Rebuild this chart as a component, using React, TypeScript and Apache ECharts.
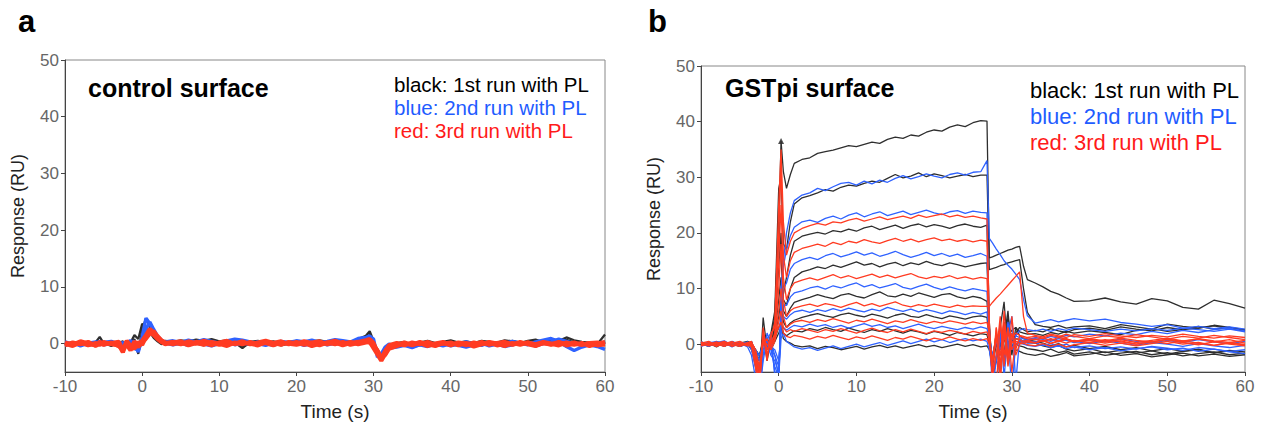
import React, { useEffect, useRef } from "react";
import * as echarts from "echarts";

// ---------- Panel a: control surface ----------
const tA = [-10,-9,-8,-7,-6,-5.5,-5,-4,-3,
  -2.5,-2,-1.5,-1,-0.5,0,0.5,1,1.5,2,2.5,3,
  4,5,6,7,8,9,10,11,12,13,14,15,16,17,18,19,20,21,22,23,24,25,26,27,28,29,
  29.5,30,30.5,31,31.5,32,
  33,34,35,36,37,38,39,40,41,42,43,44,45,46,47,48,49,50,51,52,53,54,55,56,57,58,59,60];

const aBlack1 = [0.2,-0.3,0.4,-0.1,0.3,1.2,0.1,-0.4,0.2,
  -0.3,0.4,-0.5,0.8,-1.8,2.5,4.4,3,1.5,0.6,0.2,0.5,
  0.3,0.6,0.4,0.7,0.5,0.8,0.4,0.6,0.2,-0.8,0.3,0.5,0.2,0.4,0.1,0.3,0.5,0.2,0.4,0.6,0.3,0.1,0.4,0.2,0.8,1.4,
  2.2,0.5,-1.5,-2.5,-1.2,-0.3,
  0.1,0.3,-0.2,0.2,0.5,0.1,0.3,0.6,0.2,0.4,0.1,0.5,0.3,0.2,0.6,0.4,0.1,0.5,0.7,0.3,0.8,0.5,1.1,0.6,0.3,0.2,-0.1,1.6];
const aBlack2 = [-0.2,0.3,-0.1,0.2,-0.4,0.1,0.3,-0.2,0.1,
  0.4,-0.6,0.2,1.5,0.8,3.5,2.8,2,1,0.4,-0.1,0.3,
  0.1,-0.2,0.3,0,-0.3,0.2,-0.1,0.3,0,-0.4,-0.1,0.2,-0.2,0.1,-0.3,0,0.2,-0.1,0.1,-0.2,0.2,0,-0.2,0.1,0.5,0.9,
  1.6,0.2,-1,-2.2,-1.6,-0.5,
  -0.2,0,-0.3,0.1,-0.1,-0.4,0,0.2,-0.2,0.1,-0.3,0,0.3,-0.1,0.2,0.5,0.2,-0.1,0.4,0.1,0.6,0.3,0.7,0.2,-0.1,0.1,-0.3,0.4];
const aBlue1 = [0.3,-0.1,0.2,-0.3,0.1,0.4,-0.2,0,0.3,
  -0.5,0.2,-0.3,0.5,-1.5,1.2,4.5,3.5,2.2,1,0.5,0.3,
  0.5,0.2,0.6,0.3,0.7,0.4,0.1,0.5,0.8,0.6,0.3,0,-0.3,0.1,0.4,0.2,0.5,0.3,0.6,0.2,0.4,0.7,0.5,0.3,0.9,1.1,
  1.3,0.8,-2.4,-1.8,-0.6,-0.1,
  -0.4,-0.1,-0.5,-0.2,0.2,-0.3,0.1,-0.4,-0.1,0.3,0,-0.3,0.2,-0.2,0.1,0.4,0.1,-0.2,0.3,0.6,0.9,0.4,-0.5,-1.2,-0.6,-0.2,-0.5,-1];
const aBlue2 = [-0.3,0.2,-0.4,0.1,0.3,-0.2,0.2,0.4,-0.1,
  0.2,-0.4,0.6,-0.8,-1.2,0.8,2.6,3.8,2.5,1.3,0.6,0.1,
  -0.2,0.1,-0.3,0.2,-0.1,-0.4,0,0.3,-0.2,0.1,-0.1,0.3,0,-0.3,0.2,-0.1,0.1,-0.3,0,0.2,-0.2,0.1,0.3,0,0.6,1,
  1.4,-0.3,-1.8,-2.6,-1.4,-0.8,
  -0.6,-0.3,-0.7,-0.2,-0.5,-0.1,-0.4,0,-0.3,-0.6,-0.2,0.1,-0.4,-0.1,-0.5,-0.2,0.2,-0.1,-0.4,0,0.3,0.8,0.4,0,-0.3,0.1,-0.2,0.3];
const aRed1 = [0,-0.4,0.2,-0.3,0.1,-0.2,0.3,-0.1,-0.3,
  -1.5,0.3,-0.8,0.2,-0.6,0.5,1.5,2.6,1.8,1,0.4,0.1,
  0.3,-0.1,0.4,0,0.5,0.1,-0.2,0.3,0,0.4,-0.1,0.2,0.5,0.1,-0.2,0.3,0,0.4,0.1,-0.3,0.2,0.5,0,0.3,-0.1,0.2,
  0.3,-0.8,-1.9,-3,-1.8,-0.6,
  -0.2,0.2,-0.3,0.1,-0.4,0,0.3,-0.2,0.1,-0.3,0.2,-0.1,0.3,0,-0.4,0.1,-0.2,0.2,-0.1,0.3,0,-0.3,0.2,-0.2,0.1,-0.4,0,0.3];
const aRed2 = [-0.3,0.2,-0.1,0.3,-0.4,0.1,-0.2,0.2,-0.5,
  -0.9,-0.2,-1.2,0.4,-0.3,0.2,0.9,1.8,2.2,1.3,0.6,0.2,
  -0.1,0.2,-0.3,0.1,-0.2,0.3,0,-0.4,0.2,-0.1,0.3,-0.2,0.1,-0.3,0.2,0,-0.2,0.1,-0.4,0,0.2,-0.1,0.3,-0.2,0.1,0.4,
  0.2,-0.4,-1.2,-2.4,-2,-0.9,
  -0.4,0,-0.2,0.3,-0.1,-0.4,0.1,-0.3,0.2,0,-0.5,-0.1,0.2,-0.3,0,-0.2,0.3,-0.1,-0.4,0.1,-0.2,0.2,-0.3,0,-0.2,0.1,-0.3,-0.1];
const aRed3 = [0.2,-0.2,0.4,0,-0.3,0.3,-0.1,0.1,0.3,
  -1.2,0.5,-0.4,-0.9,0.3,-0.2,1.2,2,1.5,0.8,0.3,-0.1,
  0.2,0.4,-0.1,0.3,0.1,-0.3,0.2,0.5,-0.1,0.2,0,-0.3,0.3,0.1,0.4,-0.1,0.3,-0.2,0.2,0.4,-0.1,0.2,-0.3,0.1,0.3,0.6,
  0.8,0.1,-1.5,-2.7,-1.3,-0.3,
  0.1,-0.3,0.2,-0.1,0.3,-0.2,0,0.2,-0.3,0.1,-0.1,0.3,-0.2,0.1,0.3,-0.1,0,0.2,-0.3,0.1,-0.1,0.3,-0.1,0.2,-0.2,0.1,0.2,-0.2];

// ---------- Panel b: GSTpi surface ----------
const tB = [-10,-9,-8,-7,-6,-5,-4,
  -3.5,-3,-2.5,-2,-1.5,-1,-0.5,0,0.3,0.6,
  1,1.5,2,3,4,5,6,7,8,9,10,11,12,13,14,15,16,17,18,19,20,21,22,23,24,25,26,26.8,
  27.1,27.5,28,28.5,29,29.5,30,30.5,31,31.5,32,
  33,34,35,36,37,38,40,42,44,46,48,50,52,54,56,58,60];

const bBlack1 = [0.3,-0.2,0.4,0.1,-0.3,0.2,0.5,
  0.2,-1.5,-3,1.5,0.5,-1,3,20,36.5,31,
  28,30.5,32.5,33.2,33.5,34.3,34.6,34.9,35.3,35.7,35.5,35.9,36.3,36.1,36.8,37.2,37,37.6,37.4,38.1,38.5,38.3,39,39.4,39.1,39.8,40.2,40.1,
  15.5,15.7,16,16.3,16.6,16.9,17.1,17.4,17.6,14,11.6,
  11,10.3,9.5,9,8.3,7.7,7.8,8.3,7.6,7.2,8.2,7.8,6.6,6.3,7.9,7.3,6.5];
const bBlack2 = [-0.3,0.2,-0.5,0.3,0,-0.4,0.2,
  -0.5,-4,-7,4.8,-1,2,6,28,30,18,
  17,22,25.2,26.3,26.7,27.2,27.8,27.5,28.2,28.6,28.4,28.9,29.3,29.1,29.8,30.5,29.9,30.2,30.8,30.1,30.6,30.3,29.9,30.2,30.5,30.1,30.4,30.4,
  13.4,13.6,13.8,14.1,14.3,14.6,14.8,15,15.2,10,5.7,
  3.5,3.2,3,3.4,2.9,3.1,3.3,2.8,3.5,3.1,2.7,3.6,3.2,2.9,3.4,3,2.6];
const bBlack3 = [0.4,-0.1,0.2,-0.4,0.3,0.1,-0.3,
  0.5,-2,-6,2,-3,1,5,22,15,9,
  12,16,18.5,19.4,19.8,20.1,19.8,20.4,20.2,20.7,20.3,20.9,21.2,20.6,21,21.4,20.8,21.3,21.6,21.1,21.5,21.2,20.8,21.3,21.6,21.2,21,21.4,
  4,-6,-3,2,1,6,-2,3,1.5,1,0.8,
  0.5,0.2,-0.3,0.1,-0.5,-0.2,-0.8,-0.4,-1,-0.6,-1.2,-0.8,-1.3,-0.9,-1.5,-1.1,-1.4];
const bBlack4 = [-0.2,0.3,-0.1,0.4,-0.3,0.2,0,
  -1,-3,-8,1,-2,0.5,3,14,20,8,
  7,10,12,13,13.4,13.9,13.6,14.2,13.8,14.3,14.8,14.2,14.5,13.9,14.4,14.7,14.1,14.6,14.3,14.9,14.4,14.1,14.6,14.3,13.9,14.2,14.5,14.6,
  3,-4,-8,1,-2,5,-1,2,3,2.6,2.2,
  2.5,2.2,2.8,2.4,2.1,2.6,2.9,2.5,3.1,2.7,2.4,3,2.6,2.9,3.3,2.8,2.4];
const bBlack5 = [0.1,-0.4,0.3,0,0.4,-0.2,0.1,
  0,-2,-5,1,0.5,-1,2,8,12,6,
  5,6.5,7.5,8,8.4,8.9,8.5,8.2,8.8,9.1,8.6,8.3,8.9,9.4,8.7,8.5,9,8.6,9.2,8.8,8.4,8.9,9.1,8.5,8.2,8.6,8.3,7.7,
  2,-5,-3,3,7.6,-2,0.5,1,0.8,0.5,0.3,
  0.2,-0.3,-0.6,-0.2,-0.9,-1.2,-0.8,-1.5,-1.1,-1.6,-1.2,-1.8,-1.3,-1,-1.6,-1.2,-1.8];
const bBlack6 = [0.3,0,-0.3,0.2,-0.1,0.3,-0.2,
  0.3,-1,-2,0.5,1,-0.5,1.5,5,8,4,
  3,3.8,4.3,4.8,5.2,5.5,5.1,4.8,5.3,5.6,5.2,4.9,5.4,5.1,4.7,5.2,5.5,5,4.8,5.3,4.9,4.6,5.1,4.8,4.5,4.9,5.1,4.8,
  1,-3,2,-1,4,1.5,2.5,3,2.2,2,1.8,
  1.9,1.6,2.1,1.8,2.3,2,2.4,2.1,1.7,2.5,2.8,2.3,2.6,3.2,2.7,3,2.4];
const bBlack7 = [-0.1,0.2,0,-0.3,0.2,-0.4,0.1,
  0,-1,-3,0.5,-0.5,0,1,3,4,2,
  1.5,2,2.4,2.2,2.8,2.5,3,2.6,2.3,2.9,2.5,2.1,2.6,2.3,2.8,2.4,2,2.5,2.2,1.8,2.3,2,1.6,2.1,1.8,1.5,1.9,1.7,
  0,-2,1,-1,2,0.5,-0.5,0,-0.3,-0.5,-0.8,
  -1,-1.3,-0.9,-1.5,-1.2,-1.8,-1.4,-2,-1.6,-1.3,-1.9,-1.5,-2.1,-1.7,-1.4,-1.9,-1.6];
const bBlack8 = [0.2,-0.3,0.1,0.3,-0.2,0,0.3,
  0.1,-1,-2,0,1,-1,0.5,2,3,1,
  0.5,0.2,-0.2,-0.5,-0.3,-0.8,-0.4,-0.6,-1,-0.7,-0.4,-0.9,-0.5,-0.2,-0.6,-0.3,-0.7,-0.4,-0.1,-0.5,-0.2,-0.6,-0.3,0,-0.4,-0.1,-0.5,-0.3,
  -1,-4,0,-2,1,-1,-0.5,-1,-1.3,-1.6,-1.8,
  -2,-1.7,-2.2,-1.9,-1.5,-2.1,-1.8,-1.4,-2,-1.7,-2.3,-1.9,-1.6,-2.1,-1.8,-2.2,-1.9];

const bBlue1 = [-0.2,0.4,0.1,-0.3,0.5,-0.1,0.2,
  -1,-4,-9,-3,1,2,-6,-8,10,15,
  20,23.6,25.8,26.8,27.2,28,27.6,28.3,28.9,29.1,28.6,29.3,28.8,29.5,29.1,29.8,30.3,29.7,30.1,30.6,30.2,29.9,30.5,30.8,30.4,30.9,31,33,
  19,18.2,17.1,16.1,15,14.2,13.5,12.6,11.6,8,5.1,
  3.8,4.1,4.4,4,4.3,4.6,4.2,4.5,3.9,3.6,3.2,3.5,2.9,3.2,2.8,3.1,2.7];
const bBlue2 = [0.1,-0.4,0.3,0.6,-0.2,0.2,-0.5,
  -2,-6,-9,-2,2,0,-5,-7,8,14,
  17,19.5,21,22,22.3,21.9,22.6,23,22.5,23.2,23.6,22.9,23.4,23.8,23.1,23.5,23.9,23.3,23.7,24.1,23.6,23.3,23.8,24,23.5,23.9,23.7,23.6,
  2,-8,-3,4,-6,2,5,-7,1,0.5,0.2,
  0.3,-0.2,0.1,-0.4,0,-0.6,-0.3,-0.8,-0.5,-0.9,-0.4,-0.7,-1.1,-0.6,-0.9,-1.3,-1];
const bBlue3 = [0.4,0,-0.3,0.2,-0.5,0.3,0.1,
  -0.5,-3,-7,-1,1,-1,-4,-6,6,10,
  11,13.5,14.5,15.2,15.6,15.2,15.9,16.3,15.7,16.1,16.6,16,16.4,15.8,16.2,16.7,16.1,15.6,16,16.5,15.9,16.3,15.8,16.2,15.6,15.9,16.3,15.8,
  3,-5,-8,2,-3,4,-1,1.5,2.5,2.8,2.6,
  2.4,2.7,2.3,2.8,2.5,2.9,2.6,2.3,2.7,2.4,2.8,2.5,2.9,2.6,2.3,2.7,2.2];
const bBlue4 = [-0.3,0.2,0.5,-0.1,0.3,-0.4,0,
  0.5,-2,-5,1,0,-2,-3,-5,4,7,
  7,8.5,9.2,9.6,10.1,10.4,9.9,10.5,10.1,10.6,11,10.3,10.7,10.1,10.5,10.9,10.2,9.9,10.4,10.8,10.2,9.8,10.3,9.9,9.6,10,9.7,9.5,
  1,-6,-2,3,-4,1,-8,0,0.5,0.3,0.6,
  0.4,0.8,0.5,1,0.7,0.3,0.8,0.4,0.9,0.5,0.2,0.7,0.3,0.8,0.4,0.1,0.5];
const bBlue5 = [0.2,-0.2,0.1,0.4,-0.3,0.1,0.3,
  0,-1,-3,0.5,0.5,-1,-2,-4,3,5,
  4.5,5.3,5.8,6.1,5.7,6.2,5.9,6.4,6,6.5,6.1,5.8,6.3,6,6.6,6.2,5.9,6.3,5.8,6.2,5.9,5.5,6,5.7,5.3,5.7,5.4,5.8,
  2,-3,1,-5,3,-1,2,1.5,1.2,1,0.8,
  1,0.6,0.9,0.4,0.8,0.5,0.1,0.6,0.2,-0.2,0.3,0,-0.4,0.1,-0.3,-0.6,-0.2];
const bBlue6 = [-0.4,0.1,-0.2,0.3,0,0.4,-0.1,
  -0.2,-1,-2,0,0.5,-0.5,-1,-3,2,3,
  2.5,3,3.4,3.1,3.6,3.2,3.5,3,3.4,2.9,3.3,3.7,3.2,3.5,3,3.3,2.8,3.2,3.6,3.1,2.8,3.2,2.9,2.6,3,2.7,3.1,2.8,
  1,-2,0.5,-1,2,0,1,0.5,0.2,0,-0.2,
  -0.4,-0.1,-0.6,-0.3,-0.8,-0.5,-1,-0.6,-1.2,-0.8,-0.5,-1,-0.7,-1.3,-0.9,-1.4,-1.7];
const bBlue7 = [0.3,-0.1,0.4,-0.3,0.1,-0.2,0.4,
  0,-2,-4,0,-1,0.5,-2,-6,1,2,
  0.5,0,-0.5,-0.9,-0.6,-1.1,-0.7,-0.3,-0.8,-0.4,0,-0.5,-0.1,0.3,-0.2,0.2,0.6,0.1,0.5,0.9,0.4,0.8,0.3,0.7,1,0.6,0.9,0.5,
  -1,-5,-2,1,-3,0.5,-1,0,0.4,0.6,0.8,
  1.2,0.9,1.4,1.1,1.6,1.3,1.8,1.5,2,1.7,2.3,1.9,2.5,2.1,2.6,2.9,2.4];

const bRed1 = [0.2,0.5,-0.3,0.1,0.4,-0.2,0.3,
  0.5,-3,-8,3,-2,1,4,25,35,22,
  16,18.5,20,20.8,21.3,21.7,21.4,22,21.8,22.3,22.6,22.1,22.5,22.9,22.4,22.7,23,22.6,23.2,22.8,23.1,23.4,22.9,23.2,22.8,23,22.7,22.5,
  4,-7,3,-4,6,-3,2,-1,1.5,1.2,1,
  0.8,1.1,0.7,1.2,0.9,0.5,1,0.6,1.1,0.7,0.4,0.9,0.5,1,0.6,0.3,0.7];
const bRed2 = [-0.3,0,0.4,-0.2,0.2,0.5,-0.1,
  -0.5,-4,-9,2,-3,2,3,20,32,16,
  12,15,16.5,17.2,17.6,18,17.6,18.3,17.9,18.5,18.2,18.8,18.4,18.1,18.6,19,18.5,18.9,18.4,18.8,19.1,18.6,18.9,18.5,18.8,18.4,18.7,18.5,
  2,-5,-8,4,-2,3,-5,1,0.8,0.5,0.6,
  0.3,0.7,0.2,0.6,1,0.5,0.9,0.4,0.8,0.3,0.7,1.1,0.6,0.9,0.4,0.8,0.2];
const bRed3 = [0.4,-0.2,0.1,0.3,-0.4,0,0.2,
  0,-2,-6,1,-1,0,2,15,25,12,
  8,10,11,11.5,11.9,11.5,12,12.5,11.9,12.3,11.8,12.2,12.6,12,12.4,11.9,12.3,12.7,12.1,11.8,12.2,11.9,12.3,11.8,12.1,11.7,12,11.8,
  1,-3,2,-6,4,-2,1,2,1.6,1.4,1.2,
  1.4,1.1,1.6,1.3,1.8,1.4,1,1.5,1.2,1.7,1.3,0.9,1.4,1.1,1.6,1.2,0.8];
const bRed4 = [-0.1,0.3,0,-0.4,0.3,0.1,-0.3,
  0.2,-1,-4,0.5,0,-0.5,1,10,18,8,
  5,6,6.5,6.9,7.2,6.8,7.3,7,6.6,7.1,7.5,6.9,7.3,6.8,7.2,7.6,7,6.7,7.1,6.8,7.2,6.9,6.6,7,6.7,6.9,6.8,6.8,
  6.8,7.5,8.3,9,9.8,10.6,11.4,12.2,13,5,2,
  1.6,1.3,1.8,1.5,1.2,1.7,1.4,1.9,1.5,1.2,1.6,1.3,1.8,1.4,1.1,1.5,1.2];
const bRed5 = [0.3,-0.3,0.2,0.5,-0.1,-0.4,0.2,
  -0.3,-2,-7,1,-1,0,1,6,10,5,
  3,3.6,4,4.3,3.9,4.4,4.1,4.6,4.2,3.8,4.3,4,4.5,4.1,3.7,4.2,3.9,4.4,4,3.7,4.1,3.8,4.2,3.9,3.6,4,3.7,3.9,
  2,-6,-2,5,-4,3,-1,0.5,0.3,0.1,0.4,
  0.2,0.6,0.1,0.5,0.9,0.4,0.7,0.2,0.6,0,0.4,0.8,0.3,-0.1,0.4,0,-0.3];
const bRed6 = [-0.2,0.1,-0.4,0.2,0.4,-0.1,0.1,
  0.4,-1,-5,0,1,-1,0.5,4,6,3,
  2.2,2.6,2.3,2.8,2.5,2.1,2.6,2.3,2.8,2.4,2,2.5,2.9,2.4,2.1,2.6,2.2,2.7,2.3,1.9,2.4,2.1,2.5,2.2,1.8,2.3,2,2.2,
  0.5,-4,3,-7,2,-3,5,-2,0,0.2,-0.1,
  -0.3,0.1,-0.4,0,-0.5,-0.1,0.3,-0.2,0.2,-0.3,0.1,0.5,0,0.3,-0.2,0.2,-0.1];
const bRed7 = [0.1,-0.2,0.3,0,-0.3,0.3,-0.2,
  0.1,-3,-6,2,-1,0.5,1.5,3,4,2,
  1.4,1.2,1.6,1.3,0.9,1.4,1.1,1.6,1.2,0.8,1.3,1,1.5,1.1,0.7,1.2,0.9,1.4,1,0.6,1.1,0.8,1.3,0.9,0.6,1,0.7,1,
  0,-3,1,-2,3,-4,0.5,0,0.3,0.5,0.7,
  0.9,0.5,1,0.6,0.2,0.7,0.3,0.8,0.4,0,0.5,0.1,0.6,0.2,-0.2,0.3,-0.1];

const xTicks = [-10, 0, 10, 20, 30, 40, 50, 60];
const yTicks = [0, 10, 20, 30, 40, 50];
const legendLines = ["black: 1st run with PL", "blue: 2nd run with PL", "red: 3rd run with PL"];
const panelTitles = ["control surface", "GSTpi surface"];

const BLACK = "#2e2e2e";
const BLUE = "#2f62ff";
const RED = "#ff3b22";
const FONT = "'Liberation Sans', Arial, Helvetica, sans-serif";

function pairs(t: number[], v: number[]) {
  return t.map((x, i) => [x, v[i]]);
}

export default function App() {
  const ref = useRef<HTMLDivElement>(null);
  useEffect(() => {
    document.body.style.margin = "0";
    const chart = echarts.init(ref.current!, null, { renderer: "svg" });

    const mkX = (gi: number) => ({
      type: "value",
      gridIndex: gi,
      min: -10,
      max: 60,
      interval: 10,
      name: "Time (s)",
      nameLocation: "middle",
      nameGap: 30,
      nameTextStyle: { fontSize: 19, color: "#222", fontFamily: FONT },
      axisLine: { show: true, onZero: false, lineStyle: { color: "#444", width: 1 } },
      axisTick: { show: true, length: 4, customValues: xTicks, lineStyle: { color: "#444" } },
      axisLabel: { fontSize: 17, color: "#666", fontFamily: FONT, margin: 6, customValues: xTicks },
      splitLine: { show: false },
    });
    const mkY = (gi: number) => ({
      type: "value",
      gridIndex: gi,
      min: -5,
      max: 50,
      name: "Response (RU)",
      nameLocation: "middle",
      nameGap: 38,
      nameRotate: 90,
      nameTextStyle: { fontSize: 18, color: "#222", fontFamily: FONT },
      axisLine: { show: true, onZero: false, lineStyle: { color: "#444", width: 1 } },
      axisTick: { show: true, length: 4, customValues: yTicks, lineStyle: { color: "#444" } },
      axisLabel: { fontSize: 17, color: "#666", fontFamily: FONT, margin: 6, customValues: yTicks },
      splitLine: { show: false },
    });

    const line = (gi: number, t: number[], v: number[], color: string, width: number) => ({
      type: "line",
      xAxisIndex: gi,
      yAxisIndex: gi,
      data: pairs(t, v),
      showSymbol: false,
      symbol: "none",
      silent: true,
      clip: true,
      lineStyle: { color, width },
    });

    const seriesA = [
      line(0, tA, aBlack1, BLACK, 2.2),
      line(0, tA, aBlack2, BLACK, 2.2),
      line(0, tA, aBlue1, BLUE, 3.4),
      line(0, tA, aBlue2, BLUE, 3.4),
      line(0, tA, aRed1, RED, 4.2),
      line(0, tA, aRed2, RED, 4.2),
      line(0, tA, aRed3, RED, 4.2),
    ];
    const seriesB = [
      ...[bBlack1, bBlack2, bBlack3, bBlack4, bBlack5, bBlack6, bBlack7, bBlack8].map((v) => line(1, tB, v, BLACK, 1.3)),
      ...[bBlue1, bBlue2, bBlue3, bBlue4, bBlue5, bBlue6, bBlue7].map((v) => line(1, tB, v, BLUE, 1.3)),
      ...[bRed1, bRed2, bRed3, bRed4, bRed5, bRed6, bRed7].map((v) => line(1, tB, v, RED, 1.3)),
      {
        type: "scatter",
        xAxisIndex: 1,
        yAxisIndex: 1,
        data: [[tB[15], bBlack1[15]]],
        symbol: "triangle",
        symbolSize: 6,
        itemStyle: { color: "#222" },
        silent: true,
      },
    ];

    const legendText = (x: number, y0: number, dy: number, size: number) =>
      legendLines.map((txt, i) => ({
        type: "text",
        x,
        y: y0 + i * dy,
        style: {
          text: txt,
          fill: ["#000000", "#1f5cff", "#ff1a1a"][i],
          font: `${size}px ${FONT}`,
          textVerticalAlign: "middle",
        },
      }));

    chart.setOption({
      animation: false,
      backgroundColor: "#ffffff",
      grid: [
        { left: 65, top: 60, width: 540, height: 312, show: true, borderColor: "#888", borderWidth: 1, containLabel: false },
        { left: 701, top: 66, width: 544, height: 306, show: true, borderColor: "#888", borderWidth: 1, containLabel: false },
      ],
      xAxis: [mkX(0), mkX(1)],
      yAxis: [mkY(0), mkY(1)],
      series: [...seriesA, ...seriesB],
      graphic: [
        { type: "text", x: 18, y: 21, style: { text: "a", font: `bold 31px ${FONT}`, fill: "#000", textVerticalAlign: "middle" } },
        { type: "text", x: 648, y: 21, style: { text: "b", font: `bold 31px ${FONT}`, fill: "#000", textVerticalAlign: "middle" } },
        { type: "text", x: 88, y: 88, style: { text: panelTitles[0], font: `bold 25px ${FONT}`, fill: "#000", textVerticalAlign: "middle" } },
        { type: "text", x: 725, y: 88, style: { text: panelTitles[1], font: `bold 25px ${FONT}`, fill: "#000", textVerticalAlign: "middle" } },
        ...legendText(394, 84, 23, 20.5),
        ...legendText(1030, 90, 26, 22),
      ],
    });
    return () => chart.dispose();
  }, []);

  return <div ref={ref} style={{ position: "fixed", left: 0, top: 0, width: 1263, height: 432 }} />;
}
